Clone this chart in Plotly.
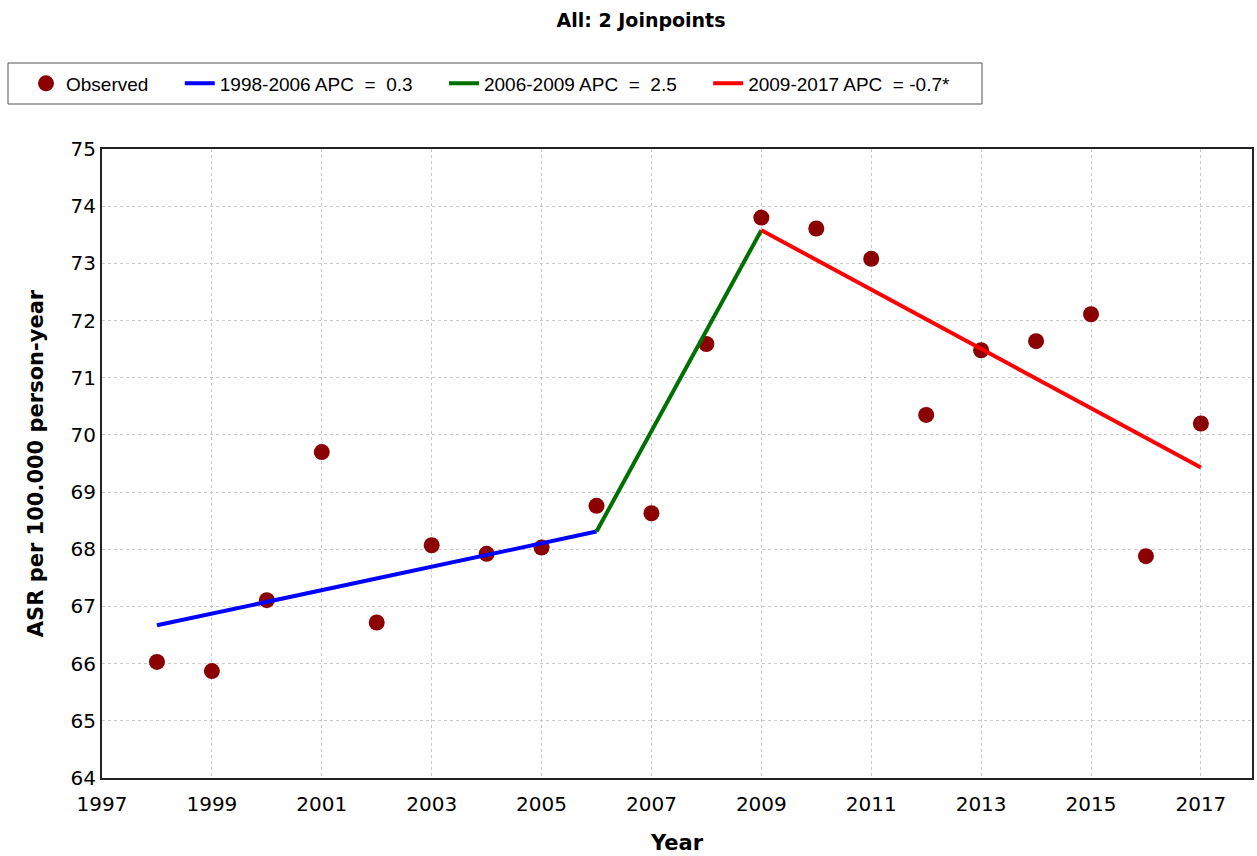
import plotly.graph_objects as go

years = list(range(1998, 2018))
observed = [66.03, 65.87, 67.11, 69.70, 66.72, 68.07, 67.92, 68.03, 68.76, 68.63,
            71.59, 73.80, 73.61, 73.08, 70.35, 71.48, 71.64, 72.11, 67.88, 70.20]

seg1_x = [1998, 2006]
seg1_y = [66.67, 68.31]
seg2_x = [2006, 2009]
seg2_y = [68.31, 73.58]
seg3_x = [2009, 2017]
seg3_y = [73.58, 69.43]

pad = "\u00a0" * 5
names = ["Observed" + pad,
         "1998-2006 APC\u00a0\u00a0=\u00a0\u00a00.3" + pad,
         "2006-2009 APC\u00a0\u00a0=\u00a0\u00a02.5" + pad,
         "2009-2017 APC\u00a0\u00a0= -0.7*"]

x_ticks = list(range(1997, 2018, 2))
y_ticks = list(range(64, 76))

fig = go.Figure()
fig.add_trace(go.Scatter(x=years, y=observed, mode="markers", name=names[0],
                         marker=dict(color="#8B0000", size=16, line=dict(width=0))))
fig.add_trace(go.Scatter(x=seg1_x, y=seg1_y, mode="lines", name=names[1],
                         line=dict(color="#0000FF", width=4)))
fig.add_trace(go.Scatter(x=seg2_x, y=seg2_y, mode="lines", name=names[2],
                         line=dict(color="#007000", width=4)))
fig.add_trace(go.Scatter(x=seg3_x, y=seg3_y, mode="lines", name=names[3],
                         line=dict(color="#FF0000", width=4)))

L, R, T, B = 102, 5, 149, 78
W, H = 1257, 856
pw, ph = W - L - R, H - T - B

def px_x(p):
    return (p - L) / pw

def px_y(p):
    return 1 + (T - p) / ph

fig.add_shape(type="rect", xref="paper", yref="paper",
              x0=px_x(8), x1=px_x(982), y0=px_y(104), y1=px_y(63),
              line=dict(color="#555555", width=1), fillcolor="white", layer="above")

fig.update_layout(
    width=W, height=H,
    paper_bgcolor="white", plot_bgcolor="white",
    margin=dict(l=L, r=R, t=T, b=B, autoexpand=False),
    title=dict(text="<b>All: 2 Joinpoints</b>", x=641 / W, xanchor="center", y=1 - 20 / H, yanchor="middle",
               font=dict(family="DejaVu Sans", size=19, color="black")),
    legend=dict(orientation="h", x=px_x(26), xanchor="left", y=px_y(83.5), yanchor="middle",
                borderwidth=0, bgcolor="rgba(0,0,0,0)",
                font=dict(family="Liberation Sans", size=19, color="black"),
                itemwidth=30),
    xaxis=dict(range=[1997, 2017.93], tickvals=x_ticks, ticktext=[str(v) for v in x_ticks],
               showgrid=True, gridcolor="#c8c8c8", griddash="dot", gridwidth=1,
               showline=True, linecolor="#222222", linewidth=2, mirror=True,
               ticks="", zeroline=False, ticklabelstandoff=7, automargin=False,
               tickfont=dict(family="DejaVu Sans", size=20, color="black"),
               title=dict(text="<b>Year</b>", font=dict(family="DejaVu Sans", size=21, color="black"), standoff=20)),
    yaxis=dict(range=[64, 75], tickvals=y_ticks,
               showgrid=True, gridcolor="#c8c8c8", griddash="dot", gridwidth=1,
               showline=True, linecolor="#222222", linewidth=2, mirror=True,
               ticks="", zeroline=False, ticklabelstandoff=0, automargin=False,
               tickfont=dict(family="DejaVu Sans", size=20, color="black"),
               title=dict(text="<b>ASR per 100.000 person-year</b>", font=dict(family="DejaVu Sans", size=21, color="black"), standoff=21)),
)

fig.write_html("out.html", config={"displayModeBar": False},
               post_script="document.body.style.margin='0';document.body.style.overflow='hidden';")
